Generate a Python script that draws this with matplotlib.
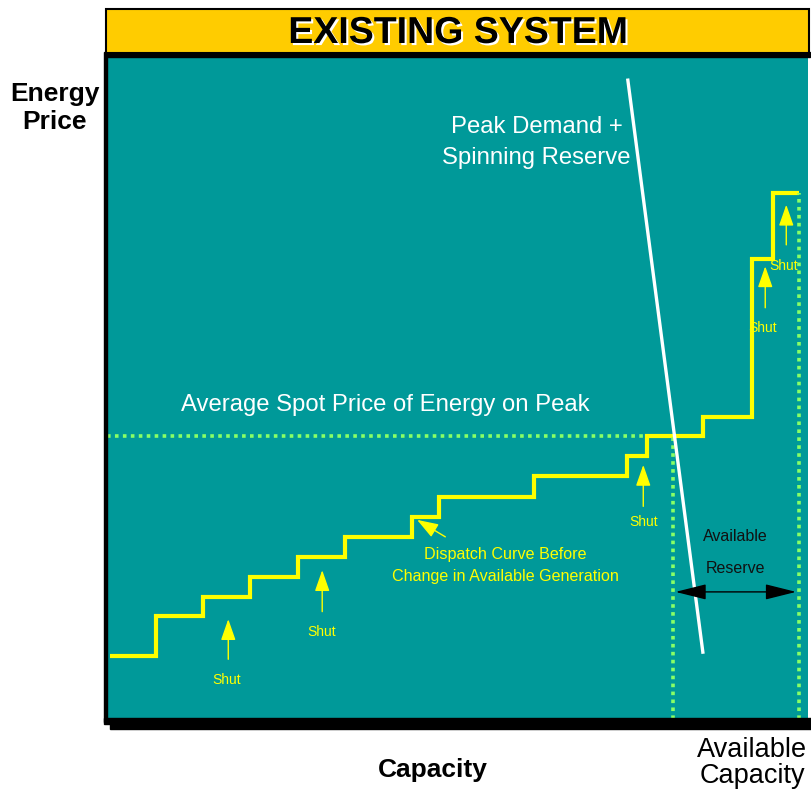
import matplotlib.pyplot as plt
import matplotlib.patheffects as pe
from matplotlib.patches import Rectangle

plt.rcParams['font.family'] = ['Liberation Sans', 'DejaVu Sans']

# Curva de despacho (capacidad en %, precio en %)
capacidad_bordes = [0.4, 7.0, 13.7, 20.4, 27.2, 33.9, 43.5, 47.4, 60.9, 74.2, 77.0, 85.0, 92.0, 95.0, 98.7]
precio_niveles = [9.5, 15.5, 18.4, 21.4, 24.4, 27.5, 30.5, 33.5, 36.7, 39.7, 42.7, 45.6, 69.5, 79.5]

precio_spot = 42.7
fin_spot = 77.0
inicio_reserva = 80.7
capacidad_disponible = 98.7
reserva_y = 19.2

# Demanda pico + reserva rodante
demanda_x = [74.3, 85.0]
demanda_y = [96.5, 10.1]

# Flechas "Shut"
shut_x = [17.3, 30.7, 76.5, 93.9, 96.9]
shut_cola = [8.6, 15.8, 31.7, 61.7, 71.2]
shut_punta = [15.5, 22.9, 38.8, 68.8, 78.1]
shut_texto_x = [17.0, 30.6, 76.5, 93.6, 96.5]
shut_texto_y = [5.9, 13.1, 29.7, 59.1, 68.5]

TEAL = '#009999'
AMARILLO = '#FFFF00'
VERDE = '#88FF66'

W, H = 812, 789
fig = plt.figure(figsize=(W / 100, H / 100), dpi=100)


def fx(px):
    return px / W


def fy(py):
    return 1 - py / H


# decoracion: sombra inferior, borde izquierdo, barra de titulo
fig.patches.append(Rectangle((fx(104), fy(724)), fx(812 - 104), 6 / H,
                             transform=fig.transFigure, color='black', zorder=0))
fig.patches.append(Rectangle((fx(110), fy(729)), fx(812 - 110), 6 / H,
                             transform=fig.transFigure, color='black', zorder=0))
fig.patches.append(Rectangle((fx(104), fy(722)), 3 / W, 670 / H,
                             transform=fig.transFigure, color='black', zorder=0))
fig.patches.append(Rectangle((fx(105), fy(57)), fx(810 - 105), 5 / H,
                             transform=fig.transFigure, color='black', zorder=0))
fig.patches.append(Rectangle((fx(106), fy(53)), fx(809 - 106), 44 / H,
                             transform=fig.transFigure, facecolor='#FFCC00',
                             edgecolor='black', lw=1.5, zorder=0))
fig.text(fx(458), fy(33), 'EXISTING SYSTEM', ha='center', va='center',
         fontsize=27, fontweight='bold', color='black',
         path_effects=[pe.withSimplePatchShadow(offset=(1.5, -1.5),
                                                shadow_rgbFace='white', alpha=1)])

ax = fig.add_axes([fx(107), fy(719), fx(808 - 107), (719 - 57) / H])
ax.set_facecolor(TEAL)
ax.set_xlim(0, 100)
ax.set_ylim(0, 100)
ax.set_xticks([])
ax.set_yticks([])
for s in ax.spines.values():
    s.set_visible(False)

# lineas punteadas
punteado = dict(color=VERDE, lw=2.6, linestyle=(0, (1, 1.2)), dash_capstyle='butt')
ax.plot([0, fin_spot], [precio_spot, precio_spot], **punteado)
ax.plot([inicio_reserva, inicio_reserva], [0, precio_spot], **punteado)
ax.plot([capacidad_disponible, capacidad_disponible], [0, precio_niveles[-1]], **punteado)

# curva de despacho
ax.stairs(precio_niveles, capacidad_bordes, baseline=None, color=AMARILLO, lw=3)

# demanda
ax.plot(demanda_x, demanda_y, color='white', lw=2.4)

# flechas Shut
for x, c, p, tx, ty in zip(shut_x, shut_cola, shut_punta, shut_texto_x, shut_texto_y):
    ax.annotate('', xy=(x, p), xytext=(x, c),
                arrowprops=dict(arrowstyle='-|>,head_length=1.0,head_width=0.35',
                                mutation_scale=13, color=AMARILLO, lw=1))
    ax.text(tx, ty, 'Shut', color=AMARILLO, fontsize=10, ha='center', va='center')

# anotacion de la curva
ax.annotate('', xy=(43.9, 30.3), xytext=(48.6, 27.3),
            arrowprops=dict(arrowstyle='-|>,head_length=1.0,head_width=0.35',
                            mutation_scale=13, color=AMARILLO, lw=1))
ax.text(56.8, 24.9, 'Dispatch Curve Before', color=AMARILLO, fontsize=11.6,
        ha='center', va='center')
ax.text(56.8, 21.6, 'Change in Available Generation', color=AMARILLO, fontsize=11.6,
        ha='center', va='center')

ax.text(39.7, 47.5, 'Average Spot Price of Energy on Peak', color='white',
        fontsize=17.2, ha='center', va='center')
ax.text(61.3, 89.4, 'Peak Demand +', color='white', fontsize=17.2, ha='center', va='center')
ax.text(61.3, 84.8, 'Spinning Reserve', color='white', fontsize=17.2, ha='center', va='center')

# reserva disponible
ax.annotate('', xy=(inicio_reserva, reserva_y), xytext=(capacidad_disponible, reserva_y),
            arrowprops=dict(arrowstyle='<|-|>,head_length=1.6,head_width=0.4',
                            mutation_scale=12, color='black', lw=1))
ax.text(89.7, 27.5, 'Available', color='#111111', fontsize=11.5, ha='center', va='center')
ax.text(89.7, 22.8, 'Reserve', color='#111111', fontsize=11.5, ha='center', va='center')

# etiquetas de ejes
fig.text(fx(55), fy(108), 'Energy\nPrice', ha='center', va='center', fontsize=19,
         fontweight='bold', linespacing=1.2)
fig.text(fx(433), fy(770), 'Capacity', ha='center', va='center', fontsize=19,
         fontweight='bold')
fig.text(fx(752), fy(763), 'Available\nCapacity', ha='center', va='center',
         fontsize=19.5, linespacing=1.0)

fig.savefig('out.png', dpi=100)
